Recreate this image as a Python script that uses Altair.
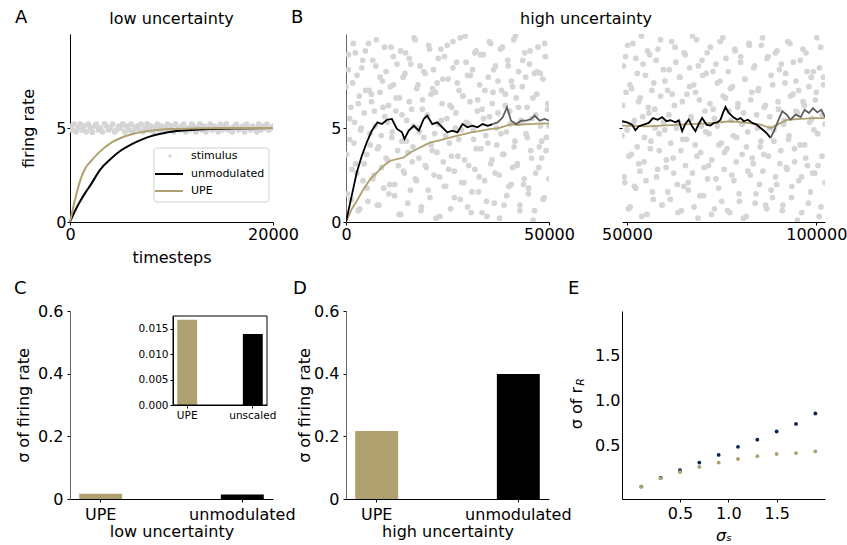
import altair as alt
import pandas as pd

W, H = 203, 188
FONT = "DejaVu Sans"
TAN = "#afa06f"
NAVY = "#0b2553"
STIM = "#d5d5d5"
GRAYLINE = "#5e5e5e"

# ---------------- Panel A (low uncertainty) ----------------
a_stim_y = [5.1, 4.9, 5.2, 4.8, 5.0, 5.22, 4.9, 5.1, 4.8, 5.2, 5.0, 4.78, 5.1, 5.2, 4.9, 5.0, 4.8, 5.22, 5.1, 4.9,
            5.0, 5.2, 4.8, 4.9, 5.1, 5.0, 5.22, 4.8, 5.1, 4.9, 5.2, 4.78, 5.0, 5.1, 4.9, 5.2, 4.8, 5.0, 5.22, 4.9,
            5.1, 4.8, 5.0, 5.2, 4.9, 5.1, 4.78, 5.0, 5.2, 4.9, 5.1, 4.8, 5.22, 5.0, 4.9, 5.1, 5.2, 4.8, 5.0, 4.9,
            5.2, 5.1, 4.8, 5.0, 5.22, 4.9, 5.1, 4.8, 5.0, 5.2, 4.9, 5.1, 5.0, 4.8, 5.2, 4.9, 5.1, 5.22, 4.9, 5.0,
            4.8, 5.1, 5.2, 4.9, 5.0, 5.1, 4.8, 5.2, 5.0, 4.9, 5.1, 5.0, 4.8, 5.2, 4.9, 5.1, 5.0, 5.2, 4.9, 5.0, 5.1]
a_t = [0, 500, 1000, 1500, 2000, 3000, 4000, 5000, 6000, 7000, 8000, 9000, 10000, 12000, 14000, 16000, 20000]
a_unmod = [0, 0.6, 1.1, 1.55, 1.95, 2.8, 3.35, 3.8, 4.12, 4.37, 4.57, 4.7, 4.8, 4.9, 4.95, 4.98, 5.0]
a_upe = [0, 1.2, 2.2, 2.85, 3.2, 3.77, 4.2, 4.47, 4.65, 4.78, 4.86, 4.92, 4.95, 4.98, 4.99, 5.0, 5.0]

# ---------------- Panel B (high uncertainty) ----------------
bl_stim_y = [7.2, 1.5, 8.9, 4.4, 6.1, 2.8, 9.5, 5.3, 3.1, 7.8, 0.6, 6.7, 4.9, 8.2, 2.2, 5.8, 9.1, 3.6, 1.1, 7.0,
             4.1, 6.4, 8.6, 2.5, 5.1, 9.7, 3.9, 0.9, 6.9, 4.6, 7.5, 1.8, 5.6, 8.0, 3.3, 6.2, 2.0, 9.3, 4.8, 7.3,
             1.4, 5.9, 8.4, 3.0, 6.6, 0.4, 4.3, 7.7, 2.6, 9.0, 5.4, 3.7, 8.7, 1.7, 6.0, 4.0, 9.8, 2.3, 7.1, 5.0,
             3.4, 8.3, 0.8, 6.5, 4.5, 7.9, 2.9, 5.7, 9.4, 1.3, 6.8, 3.8, 8.1, 4.7, 0.2, 7.4, 5.2, 2.4, 9.2, 6.3,
             3.2, 8.8, 1.9, 5.5, 7.6, 4.2, 0.7, 6.1, 9.6, 2.7, 5.0, 8.5, 3.5, 7.0, 1.2, 4.9, 6.7, 2.1, 9.9, 5.3,
             7.8, 3.0, 6.4, 0.5, 8.1, 4.4, 2.8, 9.1, 5.9, 1.6, 7.3, 3.9, 6.0, 8.9, 2.2, 4.6, 0.3, 7.7, 5.6, 9.5,
             3.3, 6.9, 1.0, 8.3, 4.1, 5.8, 2.5, 9.2, 7.0, 3.6, 0.9, 6.2, 4.8, 8.6, 1.9, 5.2, 7.5, 2.9, 9.7, 4.3,
             6.6, 3.1, 8.0, 0.6, 5.4, 7.2, 2.0, 9.0, 4.7, 6.1, 1.5, 8.4, 3.8, 5.5, 0.1, 7.9, 2.6, 6.8, 9.3, 4.0,
             5.1, 3.4, 7.6, 1.3, 8.8, 4.5, 6.3, 2.3]
bl_stim_y2 = [3.6, 8.1, 5.5, 1.2, 7.4, 4.2, 9.0, 2.6, 6.3, 0.7, 5.0, 8.6, 3.1, 7.0, 1.8, 9.5, 4.7, 6.8, 2.3, 5.9,
              8.3, 0.9, 4.0, 7.7, 2.9, 6.1, 9.3, 3.4, 5.3, 1.5, 7.2, 4.5, 8.8, 2.0, 6.6, 3.8, 0.4, 9.1, 5.7, 2.7,
              7.9, 4.3, 1.0, 6.4, 8.4, 3.2, 5.1, 9.7, 2.2, 7.3, 4.8, 0.6, 6.0, 8.0, 3.0, 5.6, 1.7, 9.2, 4.1, 7.1,
              2.5, 6.9, 3.7, 8.7, 0.3, 5.4, 7.6, 1.9, 4.6, 9.4, 2.8, 6.2, 3.5, 8.2, 1.3, 5.8, 7.4, 4.4, 9.8, 2.1,
              6.7, 3.3, 8.5, 0.8, 5.2, 7.8, 1.6, 4.9, 9.0, 3.9, 6.5, 2.4, 8.9, 0.5, 5.5, 7.0, 1.1, 4.2, 9.6, 3.1,
              6.3, 8.1, 2.6, 5.0, 7.5, 0.2, 4.7, 9.3, 3.6, 6.8, 1.4, 8.3, 5.9, 2.0, 7.2, 4.0, 9.9, 3.0, 6.1, 0.9,
              5.3, 8.6, 2.3, 7.7, 4.5, 1.8, 9.1, 3.4, 6.6, 0.6, 5.7, 8.0, 2.9, 7.9, 4.3, 1.2, 9.5, 3.8, 6.0, 5.1]
br_stim_y = [4.6, 8.3, 2.1, 6.9, 9.4, 3.5, 0.8, 7.1, 5.2, 1.9, 8.7, 4.0, 6.4, 2.7, 9.9, 5.6, 3.2, 7.8, 0.4, 6.1,
             8.9, 4.3, 1.6, 7.4, 5.0, 2.4, 9.2, 3.8, 6.7, 0.9, 8.1, 4.9, 2.9, 7.0, 5.7, 1.2, 9.6, 3.4, 6.2, 8.5,
             2.0, 5.3, 7.7, 0.6, 4.4, 9.0, 3.0, 6.8, 1.7, 8.2, 5.5, 2.6, 7.3, 4.1, 9.7, 0.2, 6.5, 3.7, 8.6, 1.4,
             5.9, 7.9, 2.3, 4.7, 9.3, 3.3, 6.0, 0.7, 8.4, 5.1, 1.8, 7.5, 4.2, 9.8, 2.8, 6.6, 3.9, 8.0, 0.5, 5.4,
             7.2, 2.2, 9.1, 4.5, 6.3, 1.1, 8.8, 3.6, 5.8, 7.6, 0.3, 4.8, 9.5, 2.5, 6.9, 3.1, 8.3, 1.5, 5.0, 7.1,
             4.0, 9.4, 2.7, 6.1, 0.9, 8.7, 3.5, 5.6, 7.8, 1.3, 4.3, 9.0, 2.0, 6.4, 8.1, 3.8, 0.6, 5.2, 7.4, 2.9,
             9.6, 4.6, 6.7, 1.9, 8.5, 3.2, 5.9, 0.1, 7.0, 4.1, 2.4, 9.2, 6.2, 3.4, 8.0, 1.0, 5.3, 7.7, 2.6, 4.9,
             6.5, 9.8, 3.0, 8.2, 0.8, 5.7, 7.3, 2.1]
br_stim_y2 = [6.2, 2.4, 8.8, 4.9, 0.7, 7.3, 3.6, 9.5, 5.4, 1.8, 7.9, 3.1, 6.6, 0.3, 8.4, 4.5, 2.2, 9.1, 5.8, 3.9,
              7.0, 1.2, 6.0, 8.6, 2.8, 4.7, 9.7, 0.9, 5.3, 7.5, 3.3, 1.6, 8.1, 4.2, 6.8, 2.6, 9.3, 5.0, 0.5, 7.7,
              3.8, 6.4, 1.9, 8.9, 4.4, 2.1, 7.2, 5.6, 9.9, 0.8, 6.9, 3.5, 8.3, 1.4, 5.1, 7.8, 2.9, 4.8, 9.0, 3.0,
              6.3, 0.4, 8.0, 5.5, 2.3, 7.4, 4.1, 9.6, 1.1, 6.7, 3.7, 8.7, 0.6, 5.9, 7.1, 2.5, 4.6, 9.2, 3.2, 6.1,
              1.5, 8.5, 5.2, 0.2, 7.6, 4.0, 2.7, 9.4, 6.5, 3.4, 8.2, 1.0, 5.7, 7.0, 2.0, 4.3, 9.8, 3.6, 6.2, 0.7,
              8.8, 5.0, 1.7, 7.3, 4.9, 2.4, 9.1, 6.0, 3.1, 8.4, 0.9, 5.4, 7.9, 2.8, 4.4, 9.5, 1.3, 6.8, 3.9, 7.5,
              5.8, 2.2, 8.6, 0.5, 6.4, 4.1, 9.0, 3.0, 7.2, 1.6, 5.5, 8.0, 2.6, 6.9, 4.7, 0.3, 9.3, 3.5, 7.7, 5.2]

bl_t = [0, 1400, 2650, 3900, 5100, 6350, 7750, 8850, 10100, 11300, 12550, 13800, 14400, 15450, 16700, 17950,
        19150, 20000, 21250, 22500, 23700, 24950, 26200, 27450, 28700, 29900, 31150, 32400, 33650, 34900, 36100,
        37350, 38600, 39650, 40650, 41900, 43150, 44400, 45600, 46450, 47700, 48950, 50000]
bl_unmod = [0, 1.39, 2.63, 3.52, 4.23, 4.86, 5.30, 5.21, 5.44, 5.48, 4.95, 4.77, 4.41, 4.86, 5.12, 4.86,
            5.48, 5.66, 5.21, 5.30, 5.04, 4.77, 4.86, 4.77, 5.21, 5.04, 5.12, 5.04, 5.21, 5.12, 5.21,
            5.30, 5.57, 6.10, 5.39, 5.21, 5.39, 5.39, 5.48, 5.66, 5.39, 5.48, 5.39]
bl_split = 36100
bl_t_upe = [0, 1400, 2650, 4300, 5950, 7600, 9250, 10900, 12550, 14200, 15850, 17500, 19150, 20800, 22500,
            24150, 25800, 27450, 29100, 30750, 32400, 34050, 35700, 37350, 39000, 40650, 42300, 43950, 45600,
            47250, 50000]
bl_upe = [0, 0.68, 1.12, 1.74, 2.28, 2.63, 2.99, 3.26, 3.35, 3.43, 3.70, 3.88, 4.06, 4.23, 4.32, 4.41,
          4.50, 4.59, 4.68, 4.77, 4.82, 4.89, 4.95, 4.98, 5.09, 5.21, 5.16, 5.20, 5.21, 5.23, 5.25]

br_t = [48700, 50020, 51350, 52230, 53110, 54430, 55750, 56900, 58130, 59280, 60430, 61480, 62810, 63690,
        64570, 65450, 66330, 67210, 68100, 68980, 69860, 71000, 72060, 72940, 73830, 74710, 75410, 76030,
        76910, 78060, 79120, 80000, 80880, 81940, 83080, 84230, 85290, 86340, 87230, 87930, 88810, 89870,
        91020, 92160, 93220, 94540, 95870, 96920, 98070, 99130, 100270, 101330, 102300]
br_unmod = [5.36, 5.30, 5.18, 4.88, 5.09, 5.18, 5.27, 5.53, 5.44, 5.58, 5.36, 5.41, 5.30, 5.41, 4.83,
            5.23, 5.44, 5.09, 4.83, 5.23, 5.53, 5.18, 5.13, 5.27, 5.30, 5.44, 5.83, 6.12, 5.80, 5.58,
            5.44, 5.53, 5.36, 5.44, 5.27, 5.18, 5.00, 4.83, 4.65, 4.47, 4.83, 5.36, 5.89, 5.71, 5.44,
            5.71, 5.58, 5.97, 5.80, 6.06, 5.83, 5.97, 5.58]
br_split = 87930
br_t_upe = [48700, 55310, 64130, 72940, 77350, 81760, 85290, 87930, 89690, 92340, 95870, 99390, 102300]
br_upe = [5.13, 5.09, 5.18, 5.27, 5.36, 5.27, 5.18, 5.00, 5.18, 5.44, 5.48, 5.53, 5.53]

# ---------------- Panels C, D (bars) ----------------
c_cats = ["UPE", "unmodulated"]
c_vals = [0.0168, 0.0140]
i_cats = ["UPE", "unscaled"]
i_vals = [0.0168, 0.0140]
d_cats = ["UPE", "unmodulated"]
d_vals = [0.217, 0.399]

# ---------------- Panel E ----------------
e_sig = [0.1, 0.3, 0.5, 0.7, 0.9, 1.1, 1.3, 1.5, 1.7, 1.9]
e_unmod = [0.048, 0.145, 0.23, 0.315, 0.40, 0.49, 0.57, 0.66, 0.745, 0.86]
e_upe = [0.048, 0.14, 0.21, 0.267, 0.315, 0.355, 0.385, 0.41, 0.42, 0.44]

ONE = pd.DataFrame({"k": [0]})
COLS = alt.Scale(domain=["UPE", "unmodulated", "unscaled"], range=[TAN, "black", "black"])


def text(s, x, y, size=16, align="center", baseline="alphabetic", angle=0, style="normal"):
    return alt.Chart(pd.DataFrame({"s": [s]})).mark_text(
        fontSize=size, align=align, baseline=baseline, angle=angle, fontStyle=style,
        font=FONT, color="black").encode(x=alt.value(x), y=alt.value(y), text="s:N")


def even_times(n, start, stop):
    step = (stop - start) / (n - 1)
    return [start + i * step for i in range(n)]


# ---- Panel A ----
dfA_stim = pd.DataFrame({"t": even_times(len(a_stim_y), 0, 20000), "v": a_stim_y})
dfA_lines = pd.DataFrame({"t": a_t, "unmod": a_unmod, "upe": a_upe})
xA = alt.X("t:Q", scale=alt.Scale(domain=[0, 20000], nice=False, zero=False),
           axis=alt.Axis(values=[0, 20000], format="d", title="timesteps", tickSize=3, labelPadding=1,
                         titleX=W / 2, titleY=40, titleBaseline="alphabetic", titleAlign="center"))
yA_axis = alt.Axis(values=[0, 5], title="firing rate", tickSize=3, labelPadding=1,
                   titleX=-42, titleY=H / 2, titleBaseline="middle", titleAlign="center", titleAngle=270)
yA_scale = alt.Scale(domain=[0, 10], nice=False)

A_stim = alt.Chart(dfA_stim).mark_circle(size=33, color=STIM, opacity=1, clip=True).encode(
    x=xA, y=alt.Y("v:Q", scale=yA_scale, axis=yA_axis))
A_unmod = alt.Chart(dfA_lines).mark_line(color="black", strokeWidth=2, interpolate="monotone").encode(
    x=xA, y=alt.Y("unmod:Q", scale=yA_scale, axis=yA_axis))
A_upe = alt.Chart(dfA_lines).mark_line(color=TAN, strokeWidth=2, interpolate="monotone").encode(
    x=xA, y=alt.Y("upe:Q", scale=yA_scale, axis=yA_axis))
leg_box = alt.Chart(ONE).mark_rect(fill="white", fillOpacity=0.85, stroke="#cfcfcf", strokeWidth=1,
                                   cornerRadius=3).encode(
    x=alt.value(84), x2=alt.value(199), y=alt.value(114), y2=alt.value(168))
leg_dot = alt.Chart(ONE).mark_circle(size=12, color=STIM, opacity=1).encode(x=alt.value(100), y=alt.value(122))
leg_l1 = alt.Chart(ONE).mark_rule(color="black", strokeWidth=2).encode(
    x=alt.value(85), x2=alt.value(113), y=alt.value(140))
leg_l2 = alt.Chart(ONE).mark_rule(color=TAN, strokeWidth=2).encode(
    x=alt.value(85), x2=alt.value(113), y=alt.value(157))
A = alt.layer(
    A_stim, A_unmod, A_upe, leg_box, leg_dot, leg_l1, leg_l2,
    text("stimulus", 121, 122, size=11, align="left", baseline="middle"),
    text("unmodulated", 121, 140, size=11, align="left", baseline="middle"),
    text("UPE", 121, 157, size=11, align="left", baseline="middle"),
    text("A", -55, -11, size=18, align="left"),
    text("low uncertainty", W / 2, -10),
).properties(width=W, height=H)

# ---- Panel B left ----
dfBl_stim = pd.DataFrame({
    "t": even_times(len(bl_stim_y), 0, 50000) + even_times(len(bl_stim_y2), 170, 50000),
    "v": bl_stim_y + bl_stim_y2})
dfBl = pd.DataFrame({"t": bl_t, "v": bl_unmod})
dfBl_k = dfBl[dfBl.t <= bl_split]
dfBl_g = dfBl[dfBl.t >= bl_split]
dfBl_upe = pd.DataFrame({"t": bl_t_upe, "v": bl_upe})
xBl = alt.X("t:Q", scale=alt.Scale(domain=[0, 50000], nice=False, zero=False),
            axis=alt.Axis(values=[0, 50000], format="d", title=None, tickSize=3, labelPadding=1))
yB_scale = alt.Scale(domain=[0, 10], nice=False)
yBl = alt.Y("v:Q", scale=yB_scale, axis=alt.Axis(values=[0, 5], title=None, tickSize=3, labelPadding=2,
                                                   domainColor="#666666"))
Bl = alt.layer(
    alt.Chart(dfBl_stim).mark_circle(size=33, color=STIM, opacity=1, clip=True).encode(x=xBl, y=yBl),
    alt.Chart(dfBl_upe).mark_line(color=TAN, strokeWidth=1.8, clip=True).encode(x=xBl, y=yBl),
    alt.Chart(dfBl_k).mark_line(color="black", strokeWidth=1.8, clip=True).encode(x=xBl, y=yBl),
    alt.Chart(dfBl_g).mark_line(color=GRAYLINE, strokeWidth=1.8, clip=True).encode(x=xBl, y=yBl),
    text("B", -55, -11, size=18, align="left"),
    text("high uncertainty", 240, -10),
).properties(width=W, height=H)

# ---- Panel B right ----
dfBr_stim = pd.DataFrame({
    "t": even_times(len(br_stim_y), 48700, 102300) + even_times(len(br_stim_y2), 48880, 102300),
    "v": br_stim_y + br_stim_y2})
dfBr = pd.DataFrame({"t": br_t, "v": br_unmod})
dfBr_k = dfBr[dfBr.t <= br_split]
dfBr_g = dfBr[dfBr.t >= br_split]
dfBr_upe = pd.DataFrame({"t": br_t_upe, "v": br_upe})
xBr = alt.X("t:Q", scale=alt.Scale(domain=[48700, 102300], nice=False, zero=False),
            axis=alt.Axis(values=[50000, 100000], format="d", title=None, tickSize=3, labelPadding=1))
yBr = alt.Y("v:Q", scale=yB_scale, axis=alt.Axis(values=[5], labels=False, domain=False, title=None, tickSize=3))
Br = alt.layer(
    alt.Chart(dfBr_stim).mark_circle(size=33, color=STIM, opacity=1, clip=True).encode(x=xBr, y=yBr),
    alt.Chart(dfBr_upe).mark_line(color=TAN, strokeWidth=1.8, clip=True).encode(x=xBr, y=yBr),
    alt.Chart(dfBr_k).mark_line(color="black", strokeWidth=1.8, clip=True).encode(x=xBr, y=yBr),
    alt.Chart(dfBr_g).mark_line(color=GRAYLINE, strokeWidth=1.8, clip=True).encode(x=xBr, y=yBr),
).properties(width=W, height=H)

# ---- Panels C, D ----
BAR_LABEL = "datum.value == 0 ? '0' : format(datum.value, '.1f')"


def bar_panel(cats, vals, xtitle, ytitle_x):
    df = pd.DataFrame({"cat": cats, "val": vals})
    return alt.Chart(df).mark_bar().encode(
        x=alt.X("cat:N", sort=cats, scale=alt.Scale(paddingInner=0.697, paddingOuter=0.065),
                axis=alt.Axis(labelAngle=0, title=xtitle, tickSize=3, labelPadding=4,
                              titleX=W / 2, titleY=37.5, titleBaseline="alphabetic", titleAlign="center")),
        y=alt.Y("val:Q", scale=alt.Scale(domain=[0, 0.6], nice=False),
                axis=alt.Axis(values=[0, 0.2, 0.4, 0.6], labelExpr=BAR_LABEL, title="σ of firing rate",
                              tickSize=3, labelPadding=4, domainColor="#666666",
                              titleX=ytitle_x, titleY=H / 2, titleBaseline="middle", titleAlign="center",
                              titleAngle=270)),
        color=alt.Color("cat:N", scale=COLS, legend=None),
    )


dfI = pd.DataFrame({"icat": i_cats, "ival": i_vals})
inset = alt.Chart(dfI).mark_bar().encode(
    x=alt.X("icat:N", sort=i_cats, scale=alt.Scale(range=[103, 197], paddingInner=0.697, paddingOuter=0.065),
            axis=alt.Axis(orient="bottom", offset=-94, labelAngle=0, labelFontSize=10.5, tickSize=3,
                          labelPadding=2, title=None)),
    y=alt.Y("ival:Q", scale=alt.Scale(domain=[0, 0.01752], range=[94, 5], nice=False),
            axis=alt.Axis(orient="left", offset=-103, values=[0, 0.005, 0.01, 0.015], format=".3f",
                          labelFontSize=10.5, tickSize=3, labelPadding=2, title=None)),
    color=alt.Color("icat:N", scale=COLS, legend=None),
)
inset_frame = alt.Chart(ONE).mark_rect(fill="white", fillOpacity=0, stroke="black", strokeWidth=1).encode(
    x=alt.value(103), x2=alt.value(197), y=alt.value(5), y2=alt.value(94))

C = alt.layer(
    bar_panel(c_cats, c_vals, "low uncertainty", -47),
    inset, inset_frame,
    text("C", -56, -17, size=18, align="left"),
).resolve_scale(x="independent", y="independent").properties(width=W, height=H)

D = alt.layer(
    bar_panel(d_cats, d_vals, "high uncertainty", -42),
    text("D", -53, -17, size=18, align="left"),
).properties(width=W, height=H)

# ---- Panel E ----
dfE = pd.DataFrame({"s": e_sig, "unmod": e_unmod, "upe": e_upe})
xE = alt.X("s:Q", scale=alt.Scale(domain=[-0.1, 2.0], nice=False, zero=False),
           axis=alt.Axis(values=[0.5, 1.0, 1.5], format=".1f", title="σₛ", titleFontStyle="italic",
                         tickSize=3, labelPadding=3, titleX=W / 2, titleY=41,
                         titleBaseline="alphabetic", titleAlign="center"))
yE_scale = alt.Scale(domain=[-0.09, 2.0], nice=False, zero=False)
yE_axis = alt.Axis(values=[0.5, 1.0, 1.5], format=".1f", title=None, tickSize=0, labelPadding=2)
E = alt.layer(
    alt.Chart(dfE).mark_circle(size=15, color=NAVY, opacity=1).encode(
        x=xE, y=alt.Y("unmod:Q", scale=yE_scale, axis=yE_axis)),
    alt.Chart(dfE).mark_circle(size=15, color=TAN, opacity=1).encode(
        x=xE, y=alt.Y("upe:Q", scale=yE_scale, axis=yE_axis)),
    text("σ of r", -45, 97, angle=270, baseline="middle"),
    text("R", -41, 71, size=11, angle=270, baseline="middle", style="italic"),
    text("E", -54, -17, size=18, align="left"),
).properties(width=W, height=H)

chart = alt.ConcatChart(
    concat=[A, Bl, Br, C, D, E], columns=3,
    spacing=alt.RowColnumber(row=89, column=73), bounds="flush",
).properties(
    padding={"left": 14, "top": 9, "right": 0, "bottom": 0}
).configure_view(stroke=None).configure_axis(
    labelFont=FONT, titleFont=FONT, labelFontSize=16, titleFontSize=16, titleFontWeight="normal",
    grid=False, domainColor="black", tickColor="black", labelColor="black", titleColor="black",
    labelFlush=False, labelOverlap=False,
)

chart.save("out.html", embed_options={"renderer": "svg", "actions": False})
